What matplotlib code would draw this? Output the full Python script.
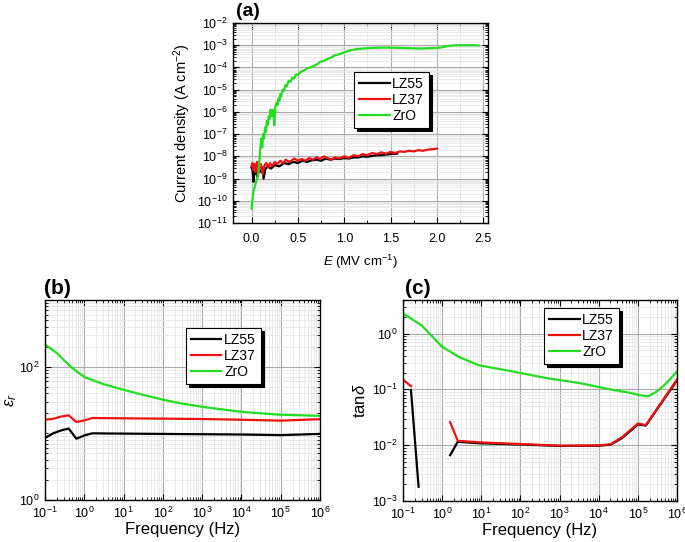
import numpy as np
import matplotlib
matplotlib.use("Agg")
import matplotlib.pyplot as plt
from matplotlib.ticker import LogLocator, MultipleLocator, NullFormatter

plt.rcParams['font.family'] = ['Liberation Sans', 'DejaVu Sans']
plt.rcParams['mathtext.fontset'] = 'custom'
plt.rcParams['mathtext.rm'] = 'Liberation Sans'
plt.rcParams['mathtext.it'] = 'Liberation Sans:italic'

# (a) J-E curves, E in MV/cm, log10 of J in A/cm2
e_zro = [0.0, 0.01, 0.02, 0.03, 0.045, 0.06, 0.075, 0.085, 0.095, 0.105, 0.115, 0.125,
         0.135, 0.145, 0.155, 0.165, 0.175, 0.185, 0.195, 0.205, 0.215, 0.225, 0.235,
         0.245, 0.255, 0.27, 0.28, 0.29, 0.30, 0.31, 0.32, 0.335, 0.35, 0.365, 0.38,
         0.40, 0.42, 0.44, 0.46, 0.48, 0.50, 0.53, 0.56, 0.60, 0.63, 0.66, 0.70, 0.74,
         0.78, 0.82, 0.86, 0.90, 0.95, 1.00, 1.05, 1.10, 1.15, 1.20, 1.30, 1.40, 1.50,
         1.60, 1.70, 1.80, 1.90, 2.00, 2.05, 2.10, 2.15, 2.20, 2.30, 2.40, 2.45]
j_zro = [-10.35, -9.9, -9.6, -9.45, -9.2, -9.0, -8.7, -8.2, -7.6, -7.2, -7.6, -7.0,
         -7.2, -6.7, -6.9, -6.4, -6.6, -6.2, -6.3, -5.9, -6.2, -5.9, -6.0,
         -6.6, -5.8, -5.6, -5.7, -5.4, -5.5, -5.2, -5.3, -5.0, -5.05, -4.8, -4.85,
         -4.6, -4.65, -4.45, -4.5, -4.3, -4.35, -4.2, -4.15, -4.05, -4.0, -3.95, -3.88, -3.75,
         -3.7, -3.62, -3.55, -3.45, -3.4, -3.32, -3.25, -3.2, -3.17, -3.15, -3.12, -3.11, -3.11,
         -3.12, -3.13, -3.15, -3.14, -3.12, -3.10, -3.05, -3.02, -3.0, -3.0, -3.0, -3.01]

e_lz37 = [0.0, 0.01, 0.02, 0.03, 0.04, 0.05, 0.06, 0.07, 0.08, 0.09, 0.10, 0.12, 0.14,
          0.16, 0.18, 0.20, 0.22, 0.25, 0.28, 0.31, 0.34, 0.37, 0.40, 0.43, 0.46, 0.50,
          0.54, 0.58, 0.62, 0.66, 0.70, 0.74, 0.78, 0.82, 0.86, 0.90, 0.95, 1.00, 1.05,
          1.10, 1.15, 1.20, 1.25, 1.30, 1.35, 1.40, 1.45, 1.50, 1.55, 1.60, 1.65, 1.70,
          1.75, 1.80, 1.85, 1.90, 1.95, 2.00]
j_lz37 = [-8.45, -8.3, -8.6, -8.35, -8.7, -8.4, -8.25, -8.9, -8.3, -8.5, -8.35, -8.8, -8.4,
          -8.3, -8.5, -8.3, -8.45, -8.25, -8.35, -8.2, -8.3, -8.15, -8.25, -8.2, -8.1, -8.2,
          -8.12, -8.2, -8.08, -8.15, -8.05, -8.12, -8.0, -8.08, -8.15, -8.05, -8.1, -8.0, -8.07,
          -7.95, -8.0, -7.9, -7.95, -7.85, -7.9, -7.82, -7.88, -7.8, -7.85, -7.78, -7.8, -7.75,
          -7.78, -7.72, -7.75, -7.7, -7.68, -7.65]

e_lz55 = [0.0, 0.01, 0.02, 0.03, 0.04, 0.05, 0.06, 0.08, 0.10, 0.12, 0.13, 0.15, 0.18,
          0.21, 0.25, 0.30, 0.35, 0.40, 0.45, 0.50, 0.55, 0.60, 0.65, 0.70, 0.75, 0.80,
          0.85, 0.90, 0.95, 1.00, 1.05, 1.10, 1.15, 1.20, 1.25, 1.30, 1.35, 1.40, 1.45,
          1.50, 1.57]
j_lz55 = [-8.5, -8.6, -9.15, -8.6, -8.8, -8.55, -8.9, -8.6, -8.7, -8.5, -9.0, -8.55, -8.45,
          -8.55, -8.4, -8.45, -8.3, -8.35, -8.25, -8.3, -8.2, -8.25, -8.18, -8.15, -8.2, -8.1,
          -8.15, -8.1, -8.12, -8.08, -8.1, -8.05, -8.05, -8.0, -8.02, -7.98, -7.95, -7.95, -7.92,
          -7.9, -7.88]

# (b) relative permittivity vs frequency (Hz)
f_b = [0.1, 0.16, 0.25, 0.4, 0.63, 1.0, 1.6, 10, 100, 1e3, 1e4, 1e5, 1e6]
eps_lz55 = [8.5, 10.0, 11.0, 11.8, 8.3, 9.3, 10.0, 9.9, 9.8, 9.7, 9.6, 9.4, 9.8]
eps_lz37 = [16.0, 16.5, 17.8, 18.6, 14.8, 15.6, 17.0, 16.8, 16.6, 16.4, 16.0, 15.5, 16.3]
f_b_zro = [0.1, 0.2, 0.3, 0.5, 1.0, 3, 10, 30, 100, 300, 1e3, 1e4, 1e5, 1e6]
eps_zro = [215, 160, 126, 95, 70, 55, 45, 38, 32, 28, 25, 21, 19, 18.3]

# (c) loss tangent vs frequency (Hz); segments are split where the curve breaks
f_c_lz55_a = [0.16, 0.25]
tan_lz55_a = [0.097, 0.0018]
f_c_lz55_b = [1.6, 2.5, 10, 100, 1e3, 1e4, 2e4, 4e4, 1e5, 1.6e5, 1e6]
tan_lz55_b = [0.0066, 0.0115, 0.0108, 0.0103, 0.0097, 0.0098, 0.0102, 0.0135, 0.0235, 0.0225, 0.145]
f_c_lz37_a = [0.1, 0.16]
tan_lz37_a = [0.15, 0.114]
f_c_lz37_b = [1.6, 2.5, 10, 100, 1e3, 1e4, 2e4, 4e4, 1e5, 1.6e5, 1e6]
tan_lz37_b = [0.026, 0.012, 0.0112, 0.0105, 0.0098, 0.0099, 0.0104, 0.014, 0.0245, 0.023, 0.15]
f_c_zro = [0.1, 0.3, 1.0, 2.7, 8.7, 63, 450, 3.2e3, 2.3e4, 6.2e4, 1.1e5, 1.8e5, 3e5, 5.4e5, 1e6]
tan_zro = [2.3, 1.4, 0.58, 0.38, 0.27, 0.21, 0.16, 0.13, 0.098, 0.087, 0.079, 0.075, 0.091, 0.13, 0.21]

W, H = 685, 542
fig = plt.figure(figsize=(W / 100, H / 100), dpi=100)


def box(l, t, r, b):
    return [l / W, 1 - b / H, (r - l) / W, (b - t) / H]


def style(ax, fs):
    ax.grid(True, which='major', color='#aaaaaa', lw=0.8)
    ax.grid(True, which='minor', color='#e2e2e2', lw=0.5)
    ax.set_axisbelow(True)
    ax.tick_params(which='both', direction='in', top=True, right=True, labelsize=fs)
    ax.tick_params(which='major', length=4, pad=4)
    ax.tick_params(which='minor', length=2)
    for s in ax.spines.values():
        s.set_linewidth(1.0)


def legend(ax, x, y, fs):
    lg = ax.legend(loc='upper left', bbox_to_anchor=(x, y), borderaxespad=0,
                   fancybox=False, edgecolor='black', framealpha=1, fontsize=fs,
                   handlelength=2.2, handletextpad=0.2, labelspacing=0.15,
                   borderpad=0.35, shadow={'color': 'black', 'alpha': 1})
    lg.get_frame().set_linewidth(0.8)


lw = 1.6
red = '#ee1111'
green = '#22dd22'

# (a)
ax = fig.add_axes(box(233, 23, 488, 223))
ax.plot(e_lz55, 10 ** np.array(j_lz55), color='black', lw=lw, label='LZ55')
ax.plot(e_lz37, 10 ** np.array(j_lz37), color=red, lw=lw, label='LZ37')
ax.plot(e_zro, 10 ** np.array(j_zro), color=green, lw=lw, label='ZrO')
ax.set_yscale('log')
ax.set_ylim(1e-11, 1e-2)
ax.set_xlim(-0.2, 2.55)
ax.xaxis.set_major_locator(MultipleLocator(0.5))
ax.xaxis.set_minor_locator(MultipleLocator(0.25))
ax.yaxis.set_major_locator(LogLocator(base=10, numticks=20))
ax.yaxis.set_minor_locator(LogLocator(base=10, subs=np.arange(2, 10), numticks=20))
ax.yaxis.set_minor_formatter(NullFormatter())
style(ax, 9)
ax.tick_params(axis='x', which='major', pad=7)
ax.set_xlabel(r'$E$ (MV cm$^{-1}$)', fontsize=9.5, labelpad=6)
ax.set_ylabel(r'Current density (A cm$^{-2}$)', fontsize=10.5, labelpad=3)
legend(ax, 0.475, 0.755, 10)
fig.text(248 / W, 1 - 12 / H, '(a)', fontsize=14, fontweight='bold', ha='center', va='center')

# (b)
ax = fig.add_axes(box(45, 300, 320, 500))
ax.plot(f_b, eps_lz55, color='black', lw=lw, label='LZ55')
ax.plot(f_b, eps_lz37, color=red, lw=lw, label='LZ37')
ax.plot(f_b_zro, eps_zro, color=green, lw=lw, label='ZrO')
ax.set_xscale('log')
ax.set_yscale('log')
ax.set_xlim(0.1, 1e6)
ax.set_ylim(1, 1000)
ax.xaxis.set_major_locator(LogLocator(base=10, numticks=20))
ax.xaxis.set_minor_locator(LogLocator(base=10, subs=np.arange(2, 10), numticks=20))
ax.xaxis.set_minor_formatter(NullFormatter())
ax.yaxis.set_major_locator(LogLocator(base=100, numticks=20))
ax.yaxis.set_minor_locator(LogLocator(base=10, subs=np.arange(1, 10), numticks=20))
ax.yaxis.set_minor_formatter(NullFormatter())
style(ax, 9)
ax.set_xlabel('Frequency (Hz)', fontsize=12, labelpad=1)
ax.set_ylabel(r'$\varepsilon_r$', fontsize=12, labelpad=0)
legend(ax, 0.513, 0.86, 10)
fig.text(57 / W, 1 - 288 / H, '(b)', fontsize=15, fontweight='bold', ha='center', va='center')

# (c)
ax = fig.add_axes(box(403, 300, 677, 501))
ax.plot(f_c_lz55_a, tan_lz55_a, color='black', lw=lw, label='LZ55')
ax.plot(f_c_lz55_b, tan_lz55_b, color='black', lw=lw)
ax.plot(f_c_lz37_a, tan_lz37_a, color=red, lw=lw, label='LZ37')
ax.plot(f_c_lz37_b, tan_lz37_b, color=red, lw=lw)
ax.plot(f_c_zro, tan_zro, color=green, lw=lw, label='ZrO')
ax.set_xscale('log')
ax.set_yscale('log')
ax.set_xlim(0.1, 1e6)
ax.set_ylim(1e-3, 4)
ax.xaxis.set_major_locator(LogLocator(base=10, numticks=20))
ax.xaxis.set_minor_locator(LogLocator(base=10, subs=np.arange(2, 10), numticks=20))
ax.xaxis.set_minor_formatter(NullFormatter())
ax.yaxis.set_major_locator(LogLocator(base=10, numticks=20))
ax.yaxis.set_minor_locator(LogLocator(base=10, subs=np.arange(2, 10), numticks=20))
ax.yaxis.set_minor_formatter(NullFormatter())
style(ax, 9)
ax.set_xlabel('Frequency (Hz)', fontsize=12, labelpad=1)
ax.set_ylabel(r'tan$\delta$', fontsize=12, labelpad=3)
legend(ax, 0.515, 0.96, 10)
fig.text(418 / W, 1 - 288 / H, '(c)', fontsize=15, fontweight='bold', ha='center', va='center')

fig.savefig('out.png', dpi=100)
